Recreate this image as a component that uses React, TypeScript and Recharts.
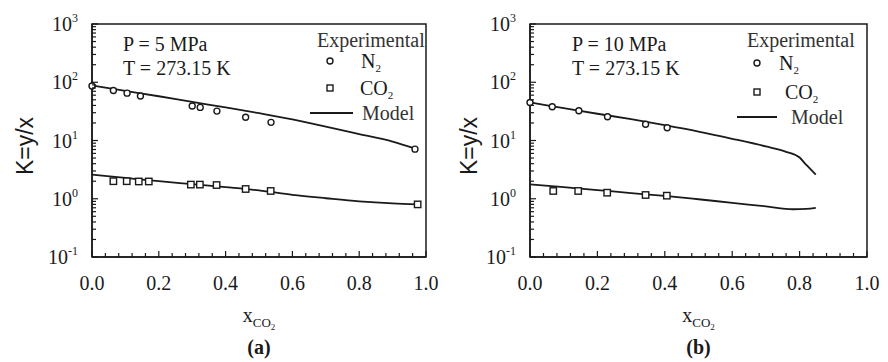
import { ComposedChart, Line, Scatter, XAxis, YAxis, ReferenceArea } from "recharts";

const SERIF = "'Liberation Serif', 'Times New Roman', Times, serif";
const SANS = "'Liberation Sans', Arial, sans-serif";
const INK = "#1a1a1a";

// (a) P = 5 MPa, T = 273.15 K
const n2ExpXA = [0, 0.064, 0.105, 0.145, 0.3, 0.324, 0.374, 0.46, 0.536, 0.967];
const n2ExpKA = [86, 72, 65, 58, 39, 37, 32, 25, 20.5, 7.1];
const co2ExpXA = [0.064, 0.104, 0.14, 0.17, 0.296, 0.323, 0.373, 0.46, 0.535, 0.975];
const co2ExpKA = [2.0, 2.0, 1.98, 1.98, 1.75, 1.75, 1.72, 1.47, 1.36, 0.8];
const n2ModelXA = [0, 0.1, 0.2, 0.3, 0.4, 0.5, 0.6, 0.7, 0.8, 0.9, 0.97];
const n2ModelKA = [88, 71, 57.5, 46, 37, 29.4, 23, 17.3, 12.9, 9.6, 7.2];
const co2ModelXA = [0, 0.1, 0.2, 0.3, 0.4, 0.5, 0.6, 0.7, 0.8, 0.9, 0.975];
const co2ModelKA = [2.6, 2.28, 2.0, 1.78, 1.58, 1.39, 1.17, 1.02, 0.9, 0.83, 0.8];

// (b) P = 10 MPa, T = 273.15 K
const n2ExpXB = [0, 0.066, 0.145, 0.23, 0.343, 0.407];
const n2ExpKB = [45, 38, 32.5, 25.6, 19, 16.6];
const co2ExpXB = [0.069, 0.143, 0.229, 0.343, 0.406];
const co2ExpKB = [1.36, 1.36, 1.27, 1.16, 1.13];
const n2ModelXB = [0, 0.1, 0.2, 0.3, 0.4, 0.5, 0.6, 0.7, 0.76, 0.8, 0.82, 0.848];
const n2ModelKB = [45, 36, 28.8, 23.2, 18.3, 14.2, 10.7, 7.9, 6.4, 5.1, 3.8, 2.6];
const co2ModelXB = [0, 0.1, 0.2, 0.3, 0.4, 0.5, 0.6, 0.7, 0.78, 0.82, 0.848];
const co2ModelKB = [1.77, 1.58, 1.41, 1.25, 1.12, 0.98, 0.85, 0.74, 0.66, 0.67, 0.7];

const xMajor = [0, 0.2, 0.4, 0.6, 0.8, 1.0];
const xTicks = Array.from({ length: 26 }, (_, i) => +(i * 0.04).toFixed(2));
const yMajor = [0.1, 1, 10, 100, 1000];
const yMinor = [0.1, 1, 10, 100].flatMap((d) =>
  [2, 3, 4, 5, 6, 7, 8, 9].map((m) => +(m * d).toPrecision(3))
);
const yTicks = [...yMajor, ...yMinor].sort((a, b) => a - b);

const zip = (xs: number[], ks: number[]) => xs.map((x, i) => ({ x, k: ks[i] }));

const serifStyle = { fontFamily: SERIF };

function XTick(props: any) {
  const { x, y, payload } = props;
  const v = payload.value as number;
  const major = xMajor.some((m) => Math.abs(m - v) < 1e-6);
  return (
    <g>
      <line x1={x} x2={x} y1={y} y2={y - (major ? 6 : 4)} stroke={INK} strokeWidth={1.2} />
      {major && (
        <text x={x} y={y + 33} textAnchor="middle" style={serifStyle} fontSize={20} fill={INK}>
          {v.toFixed(1)}
        </text>
      )}
    </g>
  );
}

function YTick(props: any) {
  const { x, y, payload } = props;
  const v = payload.value as number;
  const major = yMajor.some((m) => Math.abs(m - v) < 1e-9);
  const exp = Math.round(Math.log10(v));
  return (
    <g>
      <line x1={x} x2={x + (major ? 6 : 4)} y1={y} y2={y} stroke={INK} strokeWidth={1.2} />
      {major && (
        <text x={x - 14} y={y + 7} textAnchor="end" style={serifStyle} fontSize={20} fill={INK}>
          10
          <tspan dy={-9} fontSize={12}>
            {exp}
          </tspan>
        </text>
      )}
    </g>
  );
}

const circleDot = (p: any) => (
  <circle cx={p.cx} cy={p.cy} r={3} fill="#fff" stroke={INK} strokeWidth={1.4} />
);
const squareDot = (p: any) => (
  <rect x={p.cx - 3.2} y={p.cy - 3.2} width={6.4} height={6.4} fill="#fff" stroke={INK} strokeWidth={1.4} />
);

function Panel({ tag, left, yw, right, n2Exp, co2Exp, n2Model, co2Model }: any) {
  return (
    <div style={{ position: "absolute", left, top: 0 }}>
      <ComposedChart width={444} height={362} margin={{ top: 24, right, bottom: 0, left: 0 }}>
        <XAxis
          type="number"
          dataKey="x"
          domain={[0, 1]}
          ticks={xTicks}
          interval={0}
          tickSize={0}
          tickMargin={0}
          height={105}
          axisLine={{ stroke: INK, strokeWidth: 1.5 }}
          tick={XTick}
          label={(p: any) => {
            const vb = p.viewBox;
            const cx = vb.x + vb.width / 2;
            return (
              <g style={serifStyle} fill={INK}>
                <text x={cx} y={vb.y + 65} textAnchor="middle" fontSize={20} style={serifStyle}>
                  x
                  <tspan fontSize={13} dy={5}>CO</tspan>
                  <tspan fontSize={9} dy={3}>2</tspan>
                </text>
                <text x={cx} y={vb.y + 97} textAnchor="middle" fontSize={20} fontWeight="bold" style={serifStyle}>
                  ({tag})
                </text>
              </g>
            );
          }}
        />
        <YAxis
          type="number"
          dataKey="k"
          scale="log"
          domain={[0.1, 1000]}
          allowDataOverflow
          ticks={yTicks}
          interval={0}
          tickSize={0}
          tickMargin={0}
          width={yw}
          axisLine={{ stroke: INK, strokeWidth: 1.5 }}
          tick={YTick}
          label={() => (
            <text
              x={25}
              y={146}
              transform="rotate(-90 25 146)"
              textAnchor="middle"
              dominantBaseline="central"
              style={{ fontFamily: SANS }}
              fontSize={23}
              fill={INK}
            >
              K=y/x
            </text>
          )}
        />
        <ReferenceArea x1={0} x2={1} y1={0.1} y2={1000} fill="none" fillOpacity={0} stroke={INK} strokeWidth={1.5} ifOverflow="visible" />
        <Line data={n2Model} dataKey="k" type="monotone" dot={false} stroke={INK} strokeWidth={1.8} isAnimationActive={false} />
        <Line data={co2Model} dataKey="k" type="monotone" dot={false} stroke={INK} strokeWidth={1.8} isAnimationActive={false} />
        <Scatter data={n2Exp} dataKey="k" shape={circleDot} isAnimationActive={false} />
        <Scatter data={co2Exp} dataKey="k" shape={squareDot} isAnimationActive={false} />
      </ComposedChart>
    </div>
  );
}

function Notes({ x, p, lx, mx, tx, ly }: any) {
  // annotation + legend drawn over a panel
  return (
    <g style={serifStyle} fontSize={20} fill={INK}>
      <text x={x} y={51} style={serifStyle}>{p}</text>
      <text x={x} y={75} style={serifStyle}>T = 273.15 K</text>
      <text x={lx} y={47} fill="#333" style={serifStyle}>Experimental</text>
      <circle cx={mx} cy={ly[0]} r={3} fill="#fff" stroke={INK} strokeWidth={1.4} />
      <text x={tx[0]} y={ly[0] + 7} style={serifStyle}>
        N<tspan fontSize={11} dy={4}>2</tspan>
      </text>
      <rect x={mx - 3} y={ly[1] - 3} width={6} height={6} fill="#fff" stroke={INK} strokeWidth={1.4} />
      <text x={tx[1]} y={ly[1] + 7} style={serifStyle}>
        CO<tspan fontSize={11} dy={4}>2</tspan>
      </text>
      <line x1={tx[3]} x2={tx[4]} y1={ly[2]} y2={ly[2]} stroke={INK} strokeWidth={1.8} />
      <text x={tx[2]} y={ly[2] + 7} fill="#333" style={serifStyle}>Model</text>
    </g>
  );
}

export default function App() {
  return (
    <div style={{ position: "absolute", left: 0, top: 0, width: 888, height: 362, background: "#fff" }}>
      <Panel
        tag="a"
        left={0}
        yw={92}
        right={18}
        n2Exp={zip(n2ExpXA, n2ExpKA)}
        co2Exp={zip(co2ExpXA, co2ExpKA)}
        n2Model={zip(n2ModelXA, n2ModelKA)}
        co2Model={zip(co2ModelXA, co2ModelKA)}
      />
      <Panel
        tag="b"
        left={444}
        yw={86}
        right={21}
        n2Exp={zip(n2ExpXB, n2ExpKB)}
        co2Exp={zip(co2ExpXB, co2ExpKB)}
        n2Model={zip(n2ModelXB, n2ModelKB)}
        co2Model={zip(co2ModelXB, co2ModelKB)}
      />
      <svg width={888} height={362} style={{ position: "absolute", left: 0, top: 0, pointerEvents: "none" }}>
        <Notes x={123} p="P = 5 MPa" lx={317} mx={330} tx={[361, 360, 362, 310, 353]} ly={[61, 88, 113]} />
        <Notes x={572} p="P = 10 MPa" lx={747} mx={757} tx={[779, 785, 791, 737, 777]} ly={[63, 92, 117]} />
      </svg>
    </div>
  );
}
